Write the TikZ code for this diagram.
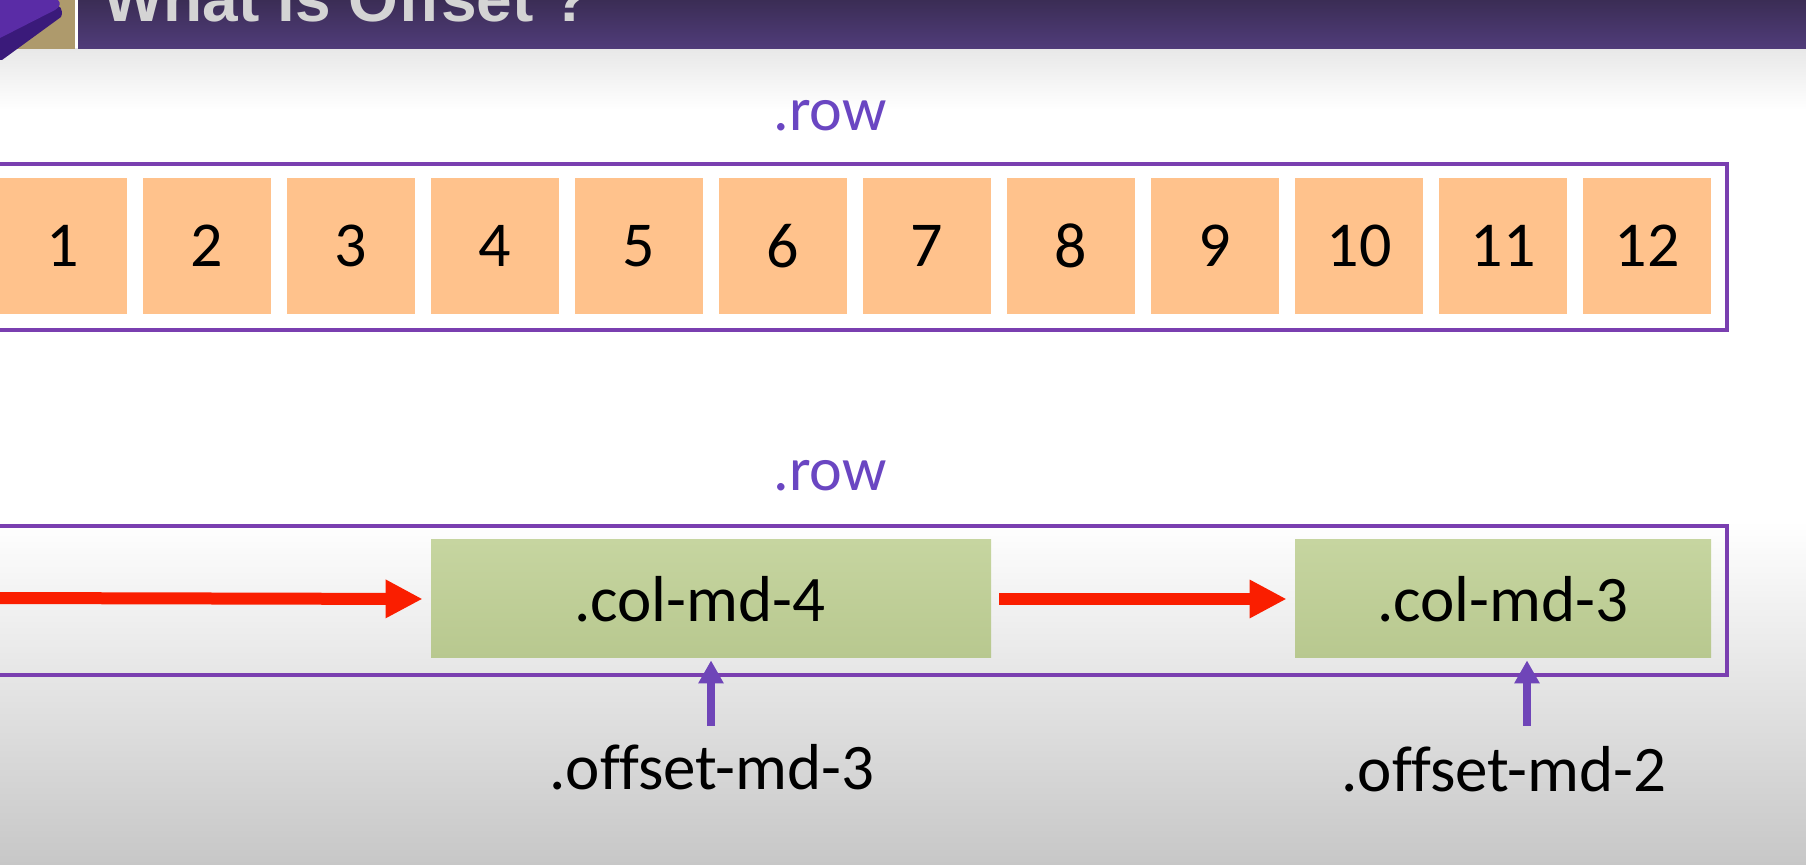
\documentclass[tikz,border=0pt]{standalone}
\usepackage{fontspec}
\setmainfont{Carlito}[Ligatures=NoCommon]
\newfontfamily\titlefont{Liberation Sans}
\usetikzlibrary{arrows.meta}
\definecolor{hdrtop}{HTML}{3B2D55}
\definecolor{hdrbot}{HTML}{503C7A}
\definecolor{logotan}{HTML}{AE9A6C}
\definecolor{logolight}{HTML}{5A2CA6}
\definecolor{logodark}{HTML}{3A1A7A}
\definecolor{titlegray}{HTML}{D4D4D4}
\definecolor{framepurple}{HTML}{7A3FB0}
\definecolor{rowpurple}{HTML}{6A46C2}
\definecolor{offpurple}{HTML}{6F45B8}
\definecolor{cellorange}{HTML}{FFC28C}
\definecolor{greentop}{HTML}{C6D5A0}
\definecolor{greenbot}{HTML}{B8C88F}
\definecolor{pushred}{HTML}{FA1E00}
\begin{document}
\begin{tikzpicture}[x=0.5pt,y=-0.5pt,
  cell/.style={fill=cellorange,minimum width=64pt,minimum height=68pt,inner sep=0pt,font=\fontsize{32}{36}\selectfont},
  colbox/.style={top color=greentop,bottom color=greenbot,minimum height=59pt,inner sep=0pt,font=\fontsize{32.5}{38}\selectfont},
  rowframe/.style={draw=framepurple,line width=2.25pt},
  rowlabel/.style={anchor=base,inner sep=0pt,text=rowpurple,font=\fontsize{31}{36}\selectfont},
  classlabel/.style={anchor=base,inner sep=0pt,font=\fontsize{32.5}{38}\selectfont},
  pusharrow/.style={draw=pushred,line width=6pt,-{Triangle[width=18pt,length=18.5pt]}},
  offarrow/.style={draw=offpurple,line width=4pt,-{Triangle[width=12pt,length=11.5pt]}}]
	    \clip (0,0) rectangle (1806,865);
	    % slide background
	    \fill[white] (0,0) rectangle (1806,865);
	    \shade[top color=black!9,bottom color=white] (0,49) rectangle (1806,110);
	    \shade[top color=white,bottom color=black!22] (0,520) rectangle (1806,865);
	    % header
	    \shade[top color=hdrtop,bottom color=hdrbot] (78,0) rectangle (1806,49);
	    \fill[logotan] (0,0) rectangle (75,49);
	    \fill[logodark] (0,30) -- (52,6) .. controls (60,3) and (64,10) .. (61,17) -- (2,60) -- (0,60) -- cycle;
	    \fill[logolight] (0,0) -- (58,0) .. controls (61,3) and (60,7) .. (55,10) -- (0,38) -- cycle;
	    \node[anchor=base west,inner sep=0pt,text=titlegray,font=\titlefont\bfseries\fontsize{32}{38}\selectfont] (title) at (103,22) {What is Offset ?};
	    % first row: twelve columns
	    \node[rowlabel] (row1) at (830,131) {.row};
	    \draw[rowframe] (-15,164) rectangle (1727,330);
	    \foreach \n in {1,...,12}
	        \node[cell] (c\n) at ({63+(\n-1)*144},246) {\n};
	    % second row: columns with offsets
	    \node[rowlabel] (row2) at (830,491) {.row};
	    \draw[rowframe] (-15,526) rectangle (1727,675);
	    \node[colbox,minimum width=280pt] (g4) at (711,599) {.col-md-4\hspace*{11pt}};
	    \node[colbox,minimum width=208pt] (g3) at (1503,599) {.col-md-3};
	    \coordinate (rs) at (-10,598);
	    \draw[pusharrow,shorten >=4pt] (rs) -- (g4.west);
	    \draw[pusharrow,shorten <=4pt,shorten >=4pt] (g4.east) -- (g3.west);
	    % offset labels
	    \node[classlabel] (o3) at (712,790) {.offset-md-3};
	    \node[classlabel] (o2) at (1504,792) {.offset-md-2};
	    \coordinate (p4) at (711,726);
	    \coordinate (p3) at (1527,726);
	    \draw[offarrow,shorten >=1pt] (p4) -- (g4.south);
	    \draw[offarrow,shorten >=1pt] (p3) -- (p3 |- g3.south);
\end{tikzpicture}
\end{document}
